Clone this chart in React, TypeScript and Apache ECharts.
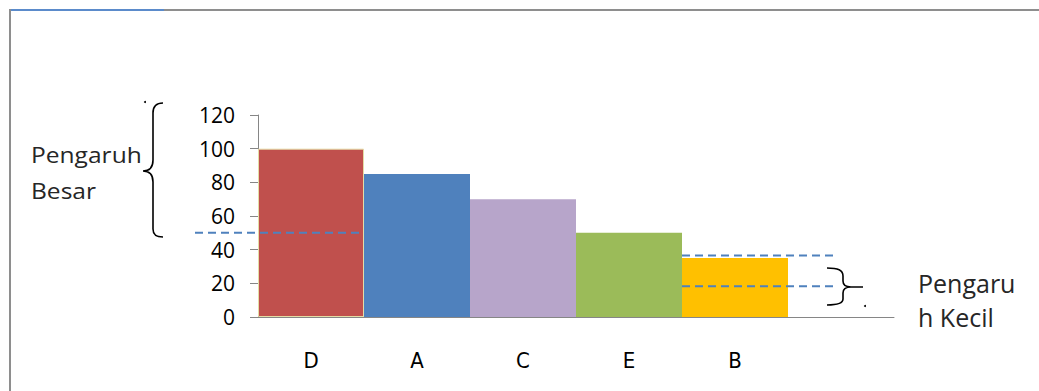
import React, { useEffect, useRef } from "react";
import * as echarts from "echarts";

const categories = ["D", "A", "C", "E", "B", ""];
const values: (number | null)[] = [100, 85, 70, 50, 35, null];
const barColors = ["#C0504D", "#4F81BD", "#B7A5CA", "#9BBB59", "#FFC000", "#FFFFFF"];
const yMin = 0;
const yMax = 120;
const yInterval = 20;
const bigThreshold = 50;
const smallUpper = 36.5;
const smallLower = 18.2;
const leftLabels = ["Pengaruh", "Besar"];
const rightLabels = ["Pengaru", "h Kecil"];

const braceLeftPath =
  "M163,103 C156,103 153,106 153,113 L153,160 C153,167 150,171 143,171 C150,171 153,175 153,182 L153,229 C153,235 156,237 163,237";
const braceRightPath =
  "M827,268 C838,268 843,270 843,276 L843,281 C843,285 846,287 851,287 L863,287 M851,287 C846,287 843,289 843,293 L843,299 C843,303 838,305 827,305";

let registered = false;
function registerShapes() {
  if (registered) return;
  registered = true;
  echarts.graphic.registerShape("braceLeft", echarts.graphic.extendPath(braceLeftPath, {}) as any);
  echarts.graphic.registerShape("braceRight", echarts.graphic.extendPath(braceRightPath, {}) as any);
}

export default function App() {
  const ref = useRef<HTMLDivElement>(null);
  useEffect(() => {
    if (!ref.current) return;
    registerShapes();
    const chart = echarts.init(ref.current, undefined, { renderer: "svg" });
    chart.setOption({
      animation: false,
      backgroundColor: "#FFFFFF",
      grid: { left: 258, right: 145, top: 115, bottom: 74 },
      xAxis: {
        type: "category",
        data: categories,
        axisLine: { lineStyle: { color: "#868686", width: 1 } },
        axisTick: { show: false },
        axisLabel: {
          margin: 32,
          fontSize: 22,
          color: "#000000",
          fontFamily: "'Liberation Sans Narrow', 'DejaVu Sans Condensed', sans-serif",
        },
      },
      yAxis: {
        type: "value",
        min: yMin,
        max: yMax,
        interval: yInterval,
        splitLine: { show: false },
        axisLine: { show: true, lineStyle: { color: "#868686", width: 1 } },
        axisTick: { show: true, length: 8, lineStyle: { color: "#868686" } },
        axisLabel: {
          margin: 23,
          fontSize: 21,
          color: "#000000",
          fontFamily: "'Open Sans', sans-serif",
        },
      },
      series: [
        {
          type: "bar",
          barCategoryGap: "0%",
          data: values.map((v, i) => ({
            value: v,
            itemStyle: i === 0
              ? { color: barColors[i], borderColor: "#E4DDA6", borderWidth: 1 }
              : { color: barColors[i] },
          })),
        },
      ],
    });

    const py = (v: number) => chart.convertToPixel({ yAxisIndex: 0 }, v) as number;
    const pxc = (i: number) => chart.convertToPixel({ xAxisIndex: 0 }, i) as number;
    const band = pxc(1) - pxc(0);
    const dEnd = pxc(0) + band / 2;
    const bStart = pxc(4) - band / 2;
    const dashStyle = { stroke: "#4F81BD", lineWidth: 2, lineDash: [8, 5] };
    const textFont = "'Open Sans', sans-serif";

    chart.setOption({
      graphic: [
        { type: "line", shape: { x1: 10, y1: 10, x2: 1039, y2: 10 }, style: { stroke: "#8E8E8E", lineWidth: 2 } },
        { type: "line", shape: { x1: 10, y1: 10, x2: 164, y2: 10 }, style: { stroke: "#5B8BCB", lineWidth: 2 } },
        { type: "line", shape: { x1: 10, y1: 9, x2: 10, y2: 391 }, style: { stroke: "#8E8E8E", lineWidth: 2 } },
        { type: "line", z: 10, shape: { x1: 195, y1: py(bigThreshold), x2: dEnd, y2: py(bigThreshold) }, style: dashStyle },
        { type: "line", z: 10, shape: { x1: bStart, y1: py(smallUpper), x2: 836, y2: py(smallUpper) }, style: dashStyle },
        { type: "line", z: 10, shape: { x1: bStart, y1: py(smallLower), x2: 836, y2: py(smallLower) }, style: dashStyle },
        { type: "braceLeft", x: 0, y: 0, style: { stroke: "#000000", fill: null, lineWidth: 1.6 } },
        { type: "braceRight", x: 0, y: 0, style: { stroke: "#000000", fill: null, lineWidth: 1.6 } },
        { type: "circle", shape: { cx: 145, cy: 102, r: 1 }, style: { fill: "#000000" } },
        { type: "circle", shape: { cx: 865, cy: 306, r: 1 }, style: { fill: "#000000" } },
        {
          type: "text", x: 31, y: 155, scaleX: 1.17,
          style: { text: leftLabels[0], fontSize: 21, fontFamily: textFont, fill: "#262626", verticalAlign: "middle" },
        },
        {
          type: "text", x: 31, y: 191, scaleX: 1.17,
          style: { text: leftLabels[1], fontSize: 21, fontFamily: textFont, fill: "#262626", verticalAlign: "middle" },
        },
        {
          type: "text", x: 918, y: 283,
          style: { text: rightLabels[0], fontSize: 25, fontFamily: textFont, fill: "#262626", verticalAlign: "middle" },
        },
        {
          type: "text", x: 918, y: 317,
          style: { text: rightLabels[1], fontSize: 25, fontFamily: textFont, fill: "#262626", verticalAlign: "middle" },
        },
      ],
    });
    return () => chart.dispose();
  }, []);
  return (
    <div
      ref={ref}
      style={{ position: "absolute", left: 0, top: 0, width: 1039, height: 391 }}
    />
  );
}
